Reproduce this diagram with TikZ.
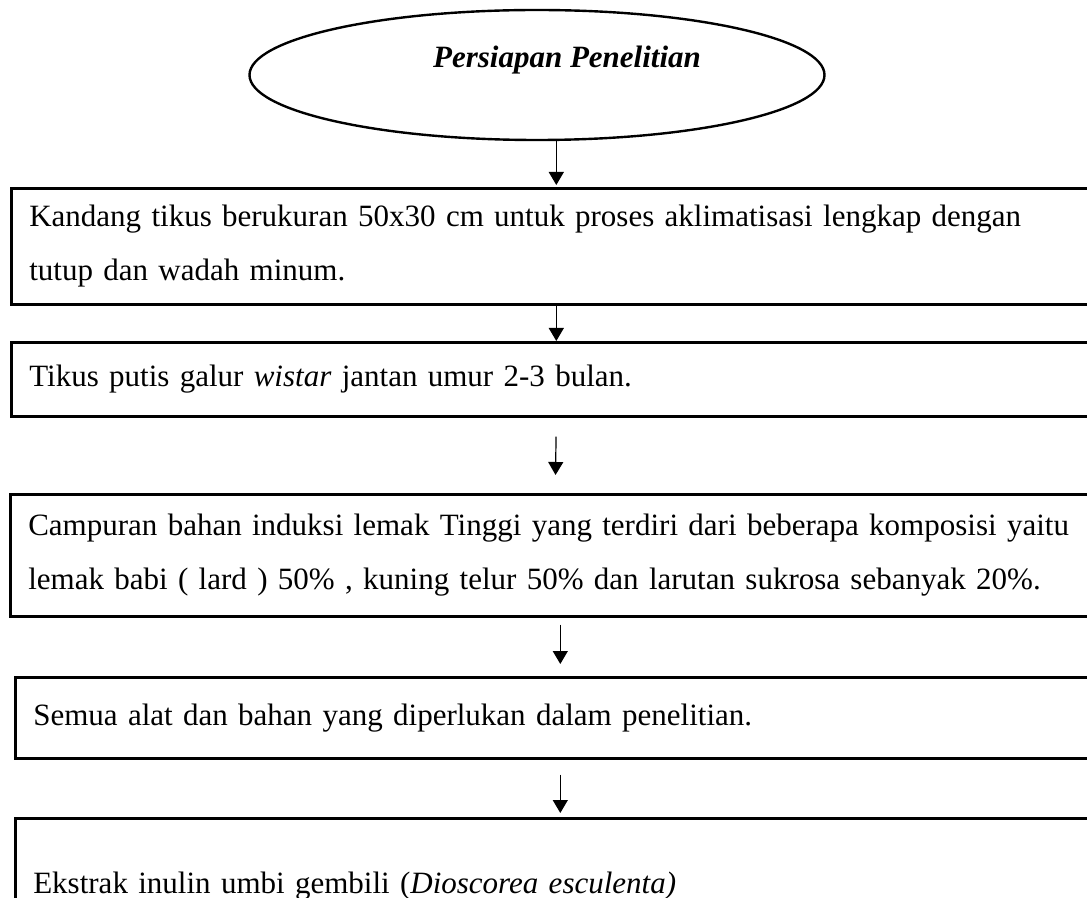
\documentclass[tikz,border=0pt]{standalone}
\usepackage{fontspec}
\setmainfont{Liberation Serif}
\usetikzlibrary{shapes.geometric, arrows.meta, positioning, calc}

\begin{document}
\begin{tikzpicture}[
    x=0.5pt, y=-0.5pt,
    start/.style={ellipse, draw, line width=1.2pt, minimum width=287.5pt, minimum height=65pt, inner sep=0pt},
    title/.style={font=\fontsize{15.5}{18}\selectfont\bfseries\itshape, inner sep=0pt},
    stepbox/.style={rectangle, draw, line width=1.3pt, anchor=north west, minimum width=545pt, text width=527pt, inner xsep=9pt, inner ysep=0pt, align=left, font=\fontsize{15.5}{27}\selectfont},
    arr/.style={-{Triangle[length=6.5pt, width=7.5pt]}, line width=0.6pt},
  ]
    \clip (0,0) rectangle (1087,898);

    \node[start] (ell) at (537,75) {};
    \node[title, anchor=base] (ttl) at (567,68) {Persiapan Penelitian};

    \node[stepbox, minimum height=58pt] (kandang) at (10,187)
      {Kandang tikus berukuran 50x30 cm untuk proses aklimatisasi lengkap dengan\\tutup dan wadah minum.};
    \node[stepbox, minimum height=37pt] (tikus) at (10,341)
      {Tikus putis galur \textit{wistar} jantan umur 2-3 bulan.};
    \node[stepbox, minimum height=61pt] (pakan) at (9,493)
      {Campuran bahan induksi lemak Tinggi yang terdiri dari beberapa komposisi yaitu\\lemak babi ( lard ) 50\% , kuning telur 50\% dan larutan sukrosa sebanyak 20\%.};
    \node[stepbox, minimum height=40.5pt] (alat) at (14,676)
      {\raisebox{-4pt}{Semua alat dan bahan yang diperlukan dalam penelitian.}};
    \node[stepbox, minimum height=68pt] (ekstrak) at (14,817)
      {Ekstrak inulin umbi gembili (\textit{Dioscorea esculenta)}};

    \draw[arr, shorten >=1pt] (ell.south -| kandang.north) -- (kandang.north);
    \draw[arr, xshift=1.5pt] (kandang.south) -- (tikus.north);
    \draw[arr, xshift=1.5pt, shorten <=9.5pt, shorten >=9pt] (tikus.south) -- (pakan.north);
    \draw[arr, xshift=-4pt, shorten <=3.5pt, shorten >=6pt] (pakan.south -| alat.north) -- (alat.north);
    \draw[arr, xshift=-2pt, shorten <=7.5pt, shorten >=2pt] (alat.south) -- (ekstrak.north);
  \end{tikzpicture}
\end{document}
